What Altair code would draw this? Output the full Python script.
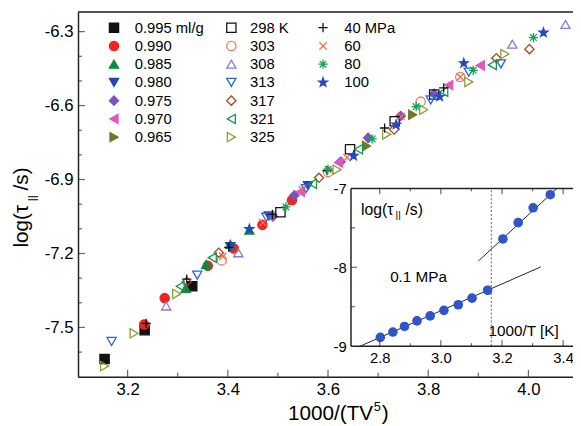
import altair as alt
import pandas as pd

FONT = "Liberation Sans"

# ---------------- main panel data ----------------
ISOCHORE_LABELS = ["0.995 ml/g", "0.990", "0.985", "0.980", "0.975", "0.970", "0.965"]
ISOCHORE_COLORS = ["#111111", "#ee2424", "#0d8a3f", "#2446b8", "#7b55bb", "#df58be", "#6c7c24"]
ISOCHORE_SHAPES = ["square", "circle", "triangle-up", "triangle-down", "diamond",
                   "triangle-left", "triangle-right"]
ISOCHORE_X = [
    [3.154, 3.234, 3.329],
    [3.233, 3.274, 3.360, 3.412, 3.469, 3.528],
    [3.316, 3.357, 3.405, 3.443],
    [3.405, 3.482, 3.560],
    [3.490, 3.533, 3.625, 3.680, 3.745, 3.812],
    [3.545, 3.621, 3.841, 3.904],
    [3.677, 3.769],
]
ISOCHORE_Y = [
    [-7.628, -7.511, -7.333],
    [-7.488, -7.381, -7.250, -7.180, -7.084, -6.984],
    [-7.341, -7.244, -7.163, -7.105],
    [-7.172, -7.048, -6.925],
    [-7.050, -6.964, -6.828, -6.731, -6.642, -6.552],
    [-6.950, -6.831, -6.517, -6.437],
    [-6.764, -6.637],
]

ISOTHERM_LABELS = ["298 K", "303", "308", "313", "317", "321", "325"]
ISOTHERM_COLORS = ["#111111", "#f47a55", "#8878d8", "#2a62e0", "#aa4422", "#14994a", "#8c9c3a"]
ISOTHERM_SHAPES = ["square", "circle", "triangle-up", "triangle-down", "diamond",
                   "triangle-left", "triangle-right"]
ISOTHERM_X = [
    [3.505, 3.644, 3.733, 3.812],
    [3.388, 3.600, 3.785, 3.864],
    [3.277, 3.421, 3.968, 4.074],
    [3.168, 3.339, 3.477, 3.556, 3.805, 3.881, 3.945],
    [3.318, 3.382, 3.582, 3.732, 3.936, 4.002],
    [3.305, 3.369, 3.569, 3.661, 3.831, 3.928],
    [3.154, 3.213, 3.298, 3.618, 3.717, 3.791, 3.881, 3.953],
]
ISOTHERM_Y = [
    [-7.033, -6.777, -6.664, -6.555],
    [-7.228, -6.870, -6.584, -6.484],
    [-7.413, -7.197, -6.351, -6.271],
    [-7.557, -7.288, -7.053, -6.937, -6.577, -6.464, -6.431],
    [-7.315, -7.197, -6.893, -6.697, -6.408, -6.371],
    [-7.333, -7.217, -6.917, -6.777, -6.544, -6.435],
    [-7.657, -7.524, -7.364, -6.860, -6.717, -6.617, -6.504, -6.391],
]

PLUS = "M-1,0L1,0M0,-1L0,1"
CROSS_X = "M-0.8,-0.8L0.8,0.8M-0.8,0.8L0.8,-0.8"
ASTER = "M-1,0L1,0M0,-1L0,1M-0.72,-0.72L0.72,0.72M-0.72,0.72L0.72,-0.72"
STAR = ("M0,-1L0.235,-0.324L0.951,-0.309L0.38,0.124L0.588,0.809L0,0.4"
        "L-0.588,0.809L-0.38,0.124L-0.951,-0.309L-0.235,-0.324Z")
ISOBAR_LABELS = ["\u200740 MPa", "\u200760", "\u200780", "100"]
ISOBAR_COLORS = ["#111111", "#f26a4f", "#17a05a", "#2748c0"]
ISOBAR_SHAPES = [PLUS, CROSS_X, ASTER, STAR]
ISOBAR_X = [
    [3.237, 3.318, 3.402, 3.489, 3.598, 3.713, 3.831],
    [3.390, 3.470, 3.549, 3.638, 3.746, 3.864],
    [3.516, 3.600, 3.688, 3.776, 3.890, 4.010],
    [3.443, 3.651, 3.736, 3.823, 3.871, 4.030],
]
ISOBAR_Y = [
    [-7.484, -7.304, -7.175, -7.041, -6.864, -6.691, -6.528],
    [-7.212, -7.075, -6.941, -6.811, -6.644, -6.484],
    [-7.011, -6.858, -6.735, -6.604, -6.457, -6.324],
    [-7.101, -6.804, -6.677, -6.564, -6.428, -6.304],
]

X_MAJOR = [3.2, 3.4, 3.6, 3.8, 4.0]
X_MINOR = [3.3, 3.5, 3.7, 3.9]
Y_MAJOR = [-6.3, -6.6, -6.9, -7.2, -7.5]
Y_MINOR = [-6.4, -6.5, -6.7, -6.8, -7.0, -7.1, -7.3, -7.4, -7.6]

# ---------------- inset data ----------------
INSET_LOW_X = [2.802, 2.843, 2.881, 2.922, 2.965, 3.010, 3.057, 3.102, 3.153]
INSET_LOW_Y = [-8.888, -8.821, -8.750, -8.679, -8.616, -8.546, -8.475, -8.391, -8.291]
INSET_HIGH_X = [3.203, 3.253, 3.302, 3.358]
INSET_HIGH_Y = [-7.641, -7.434, -7.246, -7.080]
FIT_X0 = [2.730, 3.123]
FIT_Y0 = [-9.010, -7.920]
FIT_X1 = [3.327, 3.380]
FIT_Y1 = [-7.995, -7.000]
DASH_X = 3.165
IX_MAJOR = [2.8, 3.0, 3.2, 3.4]
IX_MINOR = [2.9, 3.1, 3.3]
IY_MAJOR = [-7, -8, -9]
IY_MINOR = [-7.5, -8.5]

# ---------------- geometry ----------------
W, H = 502, 370
XMIN, XMAX = 3.101, 4.089
YMIN, YMAX = -7.70, -6.22
IXMIN, IXMAX = 1.8129, 3.4323
IYMIN, IYMAX = -9.3875, -4.7625
IX_LEFT, IY_BOT, IY_TOP = 2.706, -9.0, -7.0

XS = alt.Scale(domain=[XMIN, XMAX], nice=False, zero=False)
YS = alt.Scale(domain=[YMIN, YMAX], nice=False, zero=False)
IXS = alt.Scale(domain=[IXMIN, IXMAX], nice=False, zero=False)
IYS = alt.Scale(domain=[IYMIN, IYMAX], nice=False, zero=False)

HYPHEN = "replace(datum.label, '\u2212', '-')"

XAXIS = alt.Axis(orient="bottom", values=X_MAJOR, format=".1f", tickSize=0, grid=False,
                 domainColor="#222222", domainWidth=1.5, labelPadding=5, labelFontSize=17,
                 labelFlush=False, title=None)
YAXIS = alt.Axis(orient="left", values=Y_MAJOR, format=".1f", tickSize=0, grid=False,
                 domainColor="#222222", domainWidth=1.5, labelPadding=5, labelFontSize=17,
                 labelFlush=False, title=None, labelExpr=HYPHEN)
IXAXIS = alt.Axis(orient="bottom", offset=-31, values=IX_MAJOR, format=".1f", tickSize=0,
                  grid=False, domain=False, labelPadding=5, labelFontSize=15,
                  labelFlush=False, title=None)
IYAXIS = alt.Axis(orient="left", offset=-277, values=IY_MAJOR, format="d", tickSize=0,
                  grid=False, domain=False, labelPadding=5, labelFontSize=15,
                  labelFlush=False, title=None, labelExpr=HYPHEN)


def long_df(labels, xs, ys):
    rows = []
    for lab, xv, yv in zip(labels, xs, ys):
        for a, b in zip(xv, yv):
            rows.append({"series": lab, "x": a, "y": b})
    return pd.DataFrame(rows)


def group_layer(df, labels, strokes, fills, shapes, lx, ly, loff):
    leg = alt.Legend(title=None, orient="none", legendX=lx, legendY=ly, labelFont=FONT,
                     labelFontSize=15, labelColor="black", labelOffset=loff, symbolSize=88,
                     symbolStrokeWidth=1.3, rowPadding=2.5, clipHeight=16, padding=0,
                     labelLimit=200)
    return alt.Chart(df).mark_point(size=88, strokeWidth=1.3, opacity=1).encode(
        x=alt.X("x:Q", scale=XS, axis=XAXIS),
        y=alt.Y("y:Q", scale=YS, axis=YAXIS),
        stroke=alt.Stroke("series:N", scale=alt.Scale(domain=labels, range=strokes), legend=leg),
        fill=alt.Fill("series:N", scale=alt.Scale(domain=labels, range=fills), legend=leg),
        shape=alt.Shape("series:N", scale=alt.Scale(domain=labels, range=shapes), legend=leg),
    )


def tick_layer(vals, const, vertical, size, offset, xs, ys, xa, ya):
    df = pd.DataFrame({"v": vals, "c": [const] * len(vals)})
    if vertical:
        mk = alt.Chart(df).mark_tick(orient="vertical", size=size, thickness=1.2,
                                     yOffset=offset, color="#222222")
        return mk.encode(x=alt.X("v:Q", scale=xs, axis=xa), y=alt.Y("c:Q", scale=ys, axis=ya))
    mk = alt.Chart(df).mark_tick(orient="horizontal", size=size, thickness=1.2,
                                 xOffset=offset, color="#222222")
    return mk.encode(x=alt.X("c:Q", scale=xs, axis=xa), y=alt.Y("v:Q", scale=ys, axis=ya))


dummy = pd.DataFrame({"a": [0]})

g1 = group_layer(long_df(ISOCHORE_LABELS, ISOCHORE_X, ISOCHORE_Y), ISOCHORE_LABELS,
                 ISOCHORE_COLORS, ISOCHORE_COLORS, ISOCHORE_SHAPES, 29, 8, 13.5)
g2 = group_layer(long_df(ISOTHERM_LABELS, ISOTHERM_X, ISOTHERM_Y), ISOTHERM_LABELS,
                 ISOTHERM_COLORS, ["transparent"] * 7, ISOTHERM_SHAPES, 148, 8, 11.5)
g3 = group_layer(long_df(ISOBAR_LABELS, ISOBAR_X, ISOBAR_Y), ISOBAR_LABELS,
                 ISOBAR_COLORS, ISOBAR_COLORS, ISOBAR_SHAPES, 241, 8, 14)

top_df = pd.DataFrame({"x0": [XMIN], "x1": [XMAX], "y0": [YMAX]})
frame_top = alt.Chart(top_df).mark_rule(strokeWidth=1.5, color="#222222").encode(
    x=alt.X("x0:Q", scale=XS, axis=XAXIS), x2="x1:Q", y=alt.Y("y0:Q", scale=YS, axis=YAXIS))

main_ticks = [
    tick_layer(X_MAJOR, YMIN, True, 7, -3.5, XS, YS, XAXIS, YAXIS),
    tick_layer(X_MINOR, YMIN, True, 4, -2, XS, YS, XAXIS, YAXIS),
    tick_layer(Y_MAJOR, XMIN, False, 7, 3.5, XS, YS, XAXIS, YAXIS),
    tick_layer(Y_MINOR, XMIN, False, 4, 2, XS, YS, XAXIS, YAXIS),
]

ytitle = [
    alt.Chart(dummy).mark_text(text="log(\u03c4", angle=270, align="left", baseline="alphabetic",
                               fontSize=21, font=FONT, color="black").encode(
        x=alt.value(-51), y=alt.value(239)),
    alt.Chart(dummy).mark_text(text="||", angle=270, align="left", baseline="alphabetic",
                               fontSize=12, font=FONT, color="black").encode(
        x=alt.value(-43), y=alt.value(192)),
    alt.Chart(dummy).mark_text(text="/s)", angle=270, align="left", baseline="alphabetic",
                               fontSize=21, font=FONT, color="black").encode(
        x=alt.value(-51), y=alt.value(181)),
]
xtitle = [
    alt.Chart(dummy).mark_text(text="1000/(TV", align="left", baseline="alphabetic",
                               fontSize=21, font=FONT, color="black").encode(
        x=alt.value(213), y=alt.value(414)),
    alt.Chart(dummy).mark_text(text="5", align="left", baseline="alphabetic",
                               fontSize=13, font=FONT, color="black").encode(
        x=alt.value(300), y=alt.value(405)),
    alt.Chart(dummy).mark_text(text=")", align="left", baseline="alphabetic",
                               fontSize=21, font=FONT, color="black").encode(
        x=alt.value(308), y=alt.value(414)),
]

main = alt.layer(frame_top, *main_ticks, g1, g2, g3, *ytitle, *xtitle).resolve_scale(
    stroke="independent", fill="independent", shape="independent")

# ---------------- inset ----------------
frame_df = pd.DataFrame({"x0": [IX_LEFT], "x1": [IXMAX], "y0": [IY_BOT], "y1": [IY_TOP]})
inset_bg = alt.Chart(frame_df).mark_rect(color="white").encode(
    x=alt.X("x0:Q", scale=IXS, axis=IXAXIS), x2="x1:Q",
    y=alt.Y("y0:Q", scale=IYS, axis=IYAXIS), y2="y1:Q")
edges_df = pd.DataFrame({
    "x0": [IX_LEFT, IX_LEFT, IX_LEFT],
    "x1": [IX_LEFT, IXMAX, IXMAX],
    "y0": [IY_BOT, IY_BOT, IY_TOP],
    "y1": [IY_TOP, IY_BOT, IY_TOP],
})
inset_edges = alt.Chart(edges_df).mark_rule(strokeWidth=1.5, color="#222222").encode(
    x=alt.X("x0:Q", scale=IXS, axis=IXAXIS), x2="x1:Q",
    y=alt.Y("y0:Q", scale=IYS, axis=IYAXIS), y2="y1:Q")
dash_df = pd.DataFrame({"x0": [DASH_X], "y0": [IY_BOT], "y1": [IY_TOP]})
inset_dash = alt.Chart(dash_df).mark_rule(strokeWidth=0.8, strokeDash=[2, 2], color="#333333").encode(
    x=alt.X("x0:Q", scale=IXS, axis=IXAXIS),
    y=alt.Y("y0:Q", scale=IYS, axis=IYAXIS), y2="y1:Q")
fit_df = pd.DataFrame({"x0": FIT_X0, "x1": FIT_X1, "y0": FIT_Y0, "y1": FIT_Y1})
inset_fit = alt.Chart(fit_df).mark_rule(strokeWidth=1, color="#222222").encode(
    x=alt.X("x0:Q", scale=IXS, axis=IXAXIS), x2="x1:Q",
    y=alt.Y("y0:Q", scale=IYS, axis=IYAXIS), y2="y1:Q")
pts_df = pd.DataFrame({"x": INSET_LOW_X + INSET_HIGH_X, "y": INSET_LOW_Y + INSET_HIGH_Y})
inset_pts = alt.Chart(pts_df).mark_circle(size=95, opacity=1, color="#2f55c8").encode(
    x=alt.X("x:Q", scale=IXS, axis=IXAXIS), y=alt.Y("y:Q", scale=IYS, axis=IYAXIS))

inset_ticks = [
    tick_layer(IX_MAJOR, IY_BOT, True, 6, -3, IXS, IYS, IXAXIS, IYAXIS),
    tick_layer(IX_MINOR, IY_BOT, True, 3, -1.5, IXS, IYS, IXAXIS, IYAXIS),
    tick_layer(IX_MAJOR, IY_TOP, True, 6, 3, IXS, IYS, IXAXIS, IYAXIS),
    tick_layer(IX_MINOR, IY_TOP, True, 3, 1.5, IXS, IYS, IXAXIS, IYAXIS),
    tick_layer([-8], IX_LEFT, False, 6, 3, IXS, IYS, IXAXIS, IYAXIS),
    tick_layer(IY_MINOR, IX_LEFT, False, 4, 2, IXS, IYS, IXAXIS, IYAXIS),
]

lab_df = pd.DataFrame({"x": [2.927, 3.271], "y": [-8.125, -8.8125], "t": ["0.1 MPa", "1000/T [K]"]})
inset_labels = alt.Chart(lab_df).mark_text(fontSize=15.5, font=FONT, color="black",
                                           align="center", baseline="middle").encode(
    x=alt.X("x:Q", scale=IXS, axis=IXAXIS), y=alt.Y("y:Q", scale=IYS, axis=IYAXIS), text="t:N")

ititle_df = pd.DataFrame({"x": [2.726], "y": [-7.275]})
ititle = [
    alt.Chart(ititle_df).mark_text(text="log(\u03c4", align="left", baseline="middle", fontSize=16,
                                   dx=4, font=FONT, color="black").encode(
        x=alt.X("x:Q", scale=IXS, axis=IXAXIS), y=alt.Y("y:Q", scale=IYS, axis=IYAXIS)),
    alt.Chart(ititle_df).mark_text(text="||", align="left", baseline="middle", fontSize=10,
                                   dx=39, dy=5, font=FONT, color="black").encode(
        x=alt.X("x:Q", scale=IXS, axis=IXAXIS), y=alt.Y("y:Q", scale=IYS, axis=IYAXIS)),
    alt.Chart(ititle_df).mark_text(text="/s)", align="left", baseline="middle", fontSize=16,
                                   dx=49, font=FONT, color="black").encode(
        x=alt.X("x:Q", scale=IXS, axis=IXAXIS), y=alt.Y("y:Q", scale=IYS, axis=IYAXIS)),
]

inset = alt.layer(inset_bg, inset_dash, inset_fit, inset_pts, inset_edges, *inset_ticks,
                  inset_labels, *ititle)

chart = alt.layer(main, inset).resolve_scale(x="independent", y="independent").properties(
    width=W, height=H,
    padding={"left": 71, "top": 1, "right": 0, "bottom": 47},
    autosize=alt.AutoSizeParams(type="none"),
).configure_view(stroke=None).configure_axis(
    labelFont=FONT, labelColor="black"
).configure(background="white")

chart.save("out.html", embed_options={"renderer": "svg", "actions": False})
